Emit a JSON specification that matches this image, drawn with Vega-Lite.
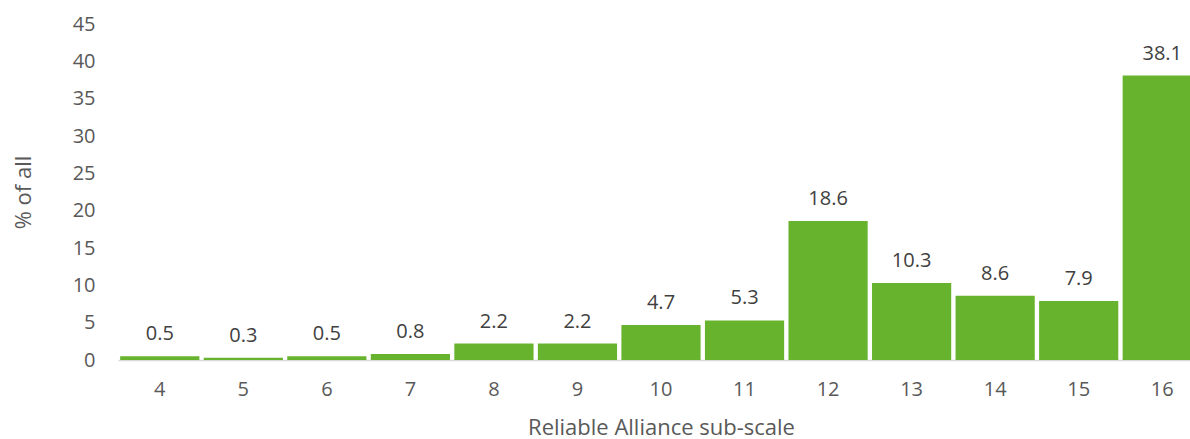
{
  "$schema": "https://vega.github.io/schema/vega-lite/v6.json",
  "autosize": {"type": "none"},
  "padding": {"left": 118, "top": 24, "right": 0, "bottom": 79},
  "width": 1086,
  "height": 336,
  "background": "white",
  "data": {"values": [
    {"score": "4", "pct": 0.5},
    {"score": "5", "pct": 0.3},
    {"score": "6", "pct": 0.5},
    {"score": "7", "pct": 0.8},
    {"score": "8", "pct": 2.2},
    {"score": "9", "pct": 2.2},
    {"score": "10", "pct": 4.7},
    {"score": "11", "pct": 5.3},
    {"score": "12", "pct": 18.6},
    {"score": "13", "pct": 10.3},
    {"score": "14", "pct": 8.6},
    {"score": "15", "pct": 7.9},
    {"score": "16", "pct": 38.1}
  ]},
  "config": {
    "view": {"stroke": null},
    "font": "Open Sans"
  },
  "encoding": {
    "x": {
      "field": "score", "type": "ordinal", "sort": null,
      "scale": {"paddingInner": 0.052, "paddingOuter": 0.026},
      "axis": {
        "title": "Reliable Alliance sub-scale",
        "titleFontSize": 22, "titleFontWeight": "normal", "titleColor": "#595959", "titlePadding": 18,
        "labelAngle": 0, "labelFontSize": 20, "labelColor": "#595959", "labelPadding": 19,
        "ticks": false, "domainColor": "#D9D9D9", "domainWidth": 1.5
      }
    },
    "y": {
      "field": "pct", "type": "quantitative",
      "scale": {"domain": [0, 45]},
      "axis": {
        "title": "% of all",
        "titleFontSize": 22, "titleFontWeight": "normal", "titleColor": "#595959", "titlePadding": 37,
        "values": [0, 5, 10, 15, 20, 25, 30, 35, 40, 45],
        "labelFontSize": 20, "labelColor": "#595959", "labelPadding": 23,
        "ticks": false, "domain": false, "grid": false
      }
    }
  },
  "layer": [
    {"mark": {"type": "bar", "color": "#67B32E"}},
    {
      "mark": {"type": "text", "baseline": "alphabetic", "dy": -16, "fontSize": 20, "color": "#404040"},
      "encoding": {"text": {"field": "pct", "type": "quantitative", "format": ".1f"}}
    }
  ]
}
